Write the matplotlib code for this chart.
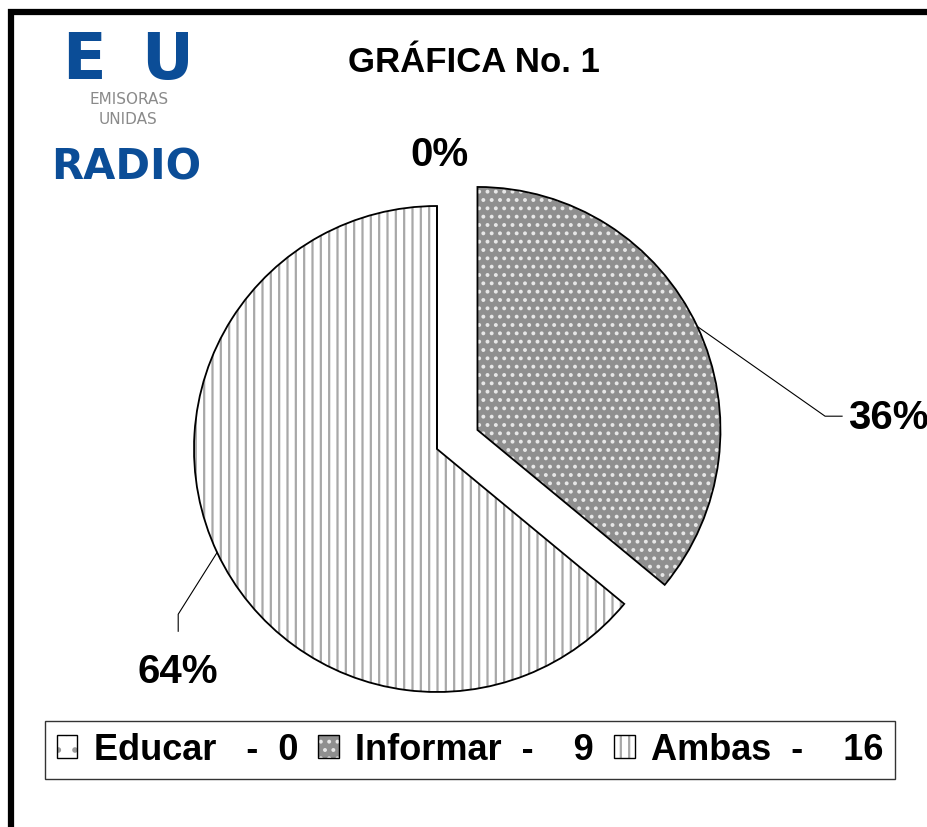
import matplotlib
matplotlib.use("Agg")
from matplotlib import pyplot as plt
from matplotlib.patches import Patch, Rectangle
from matplotlib.legend_handler import HandlerTuple
import numpy as np

plt.rcParams['font.family'] = ['Liberation Sans', 'DejaVu Sans']
plt.rcParams['hatch.linewidth'] = 1.6

# datos
categorias = ["Educar", "Informar", "Ambas"]
valores = [0, 9, 16]
etiquetas_leyenda = ["Educar   -  0", "Informar  -    9", "Ambas  -    16"]
titulo = "GRÁFICA No. 1"

# estilos
colores = ["white", "#8f8f8f", "white"]
tramas = [".", "..", "||"]
color_trama = ["#9a9a9a", "#e8e8e8", "#a8a8a8"]
separar = [0, 0.184, 0]

fig = plt.figure(figsize=(9.28, 8.28), dpi=100)
ax = fig.add_axes([0, 0, 1, 1])

# relleno, trama y borde por capas
w1, _ = ax.pie(valores, explode=separar, startangle=90, counterclock=False,
               colors=colores, wedgeprops=dict(linewidth=0))
w2, _ = ax.pie(valores, explode=separar, startangle=90, counterclock=False,
               colors=["none"] * 3, hatch=tramas, wedgeprops=dict(linewidth=0))
for w, c in zip(w2, color_trama):
    w.set_edgecolor(c)
    w.set_linewidth(0)
w3, _ = ax.pie(valores, explode=separar, startangle=90, counterclock=False,
               colors=["none"] * 3,
               wedgeprops=dict(linewidth=1.3, edgecolor="black"))

# escala: 243 px por unidad, centro en (437, 450)
ax.set_xlim(-437 / 243, (928 - 437) / 243)
ax.set_ylim(-(828 - 450) / 243, 450 / 243)
ax.set_aspect("equal")
ax.axis("off")

# porcentajes
total = sum(valores)
pct = [round(v / total * 100) for v in valores]
ax.text(0.012, 1.214, "{}%".format(pct[0]), fontsize=29, fontweight="bold",
        ha="center", va="center")

# Informar
w = w3[1]
mid = np.deg2rad((w.theta1 + w.theta2) / 2)
cx, cy = w.center
p = (cx + np.cos(mid), cy + np.sin(mid))
ax.plot([p[0], 1.597, 1.667], [p[1], 0.135, 0.135], color="black", lw=0.8)
ax.text(1.691, 0.13, "{}%".format(pct[1]), fontsize=29, fontweight="bold",
        ha="left", va="center")

# Ambas
w = w3[2]
mid = np.deg2rad((w.theta1 + w.theta2) / 2)
cx, cy = w.center
p = (cx + np.cos(mid), cy + np.sin(mid))
ax.plot([p[0], -1.065, -1.065], [p[1], -0.68, -0.75], color="black", lw=0.8)
ax.text(-1.065, -0.915, "{}%".format(pct[2]), fontsize=29, fontweight="bold",
        ha="center", va="center")

# titulo
fig.text(474 / 928, 1 - 63 / 828, titulo, fontsize=25, fontweight="bold",
         ha="center", va="center")

# logo
azul = "#0b4d97"
fig.text(84 / 928, 1 - 61 / 828, "E", fontsize=46, fontweight="bold",
         color=azul, ha="center", va="center", family="DejaVu Sans")
fig.text(167 / 928, 1 - 61 / 828, "U", fontsize=46, fontweight="bold",
         color=azul, ha="center", va="center", family="DejaVu Sans")
fig.text(129 / 928, 1 - 99 / 828, "EMISORAS", fontsize=11, color="#8a8a8a",
         ha="center", va="center", family="DejaVu Sans")
fig.text(128 / 928, 1 - 120 / 828, "UNIDAS", fontsize=11, color="#8a8a8a",
         ha="center", va="center", family="DejaVu Sans")
fig.text(126 / 928, 1 - 167 / 828, "RADIO", fontsize=30, fontweight="bold",
         color=azul, ha="center", va="center", family="DejaVu Sans")

# leyenda
manijas = []
for c, t, tc in zip(colores, tramas, color_trama):
    a = Patch(facecolor=c, edgecolor="none")
    b = Patch(facecolor="none", edgecolor=tc, hatch=t, linewidth=0)
    d = Patch(facecolor="none", edgecolor="black", linewidth=1)
    manijas.append((a, b, d))
leg = fig.legend(manijas, etiquetas_leyenda, ncol=3,
                 loc="center", bbox_to_anchor=(470 / 928, 1 - 751 / 828),
                 handler_map={tuple: HandlerTuple(ndivide=1, pad=0)},
                 prop=dict(size=26, weight="bold"),
                 handlelength=0.58, handleheight=0.6, handletextpad=0.45,
                 columnspacing=0.55, borderpad=0.33, borderaxespad=0,
                 fancybox=False, edgecolor="#333333", framealpha=1)
leg.get_frame().set_linewidth(1.0)

# marco exterior
fig.patches.append(Rectangle((11 / 928, -0.1), 1.2, 1 - 13 / 828 + 0.1,
                             transform=fig.transFigure, fill=False,
                             edgecolor="black", linewidth=4.5))

fig.savefig("out.png", dpi=100)
